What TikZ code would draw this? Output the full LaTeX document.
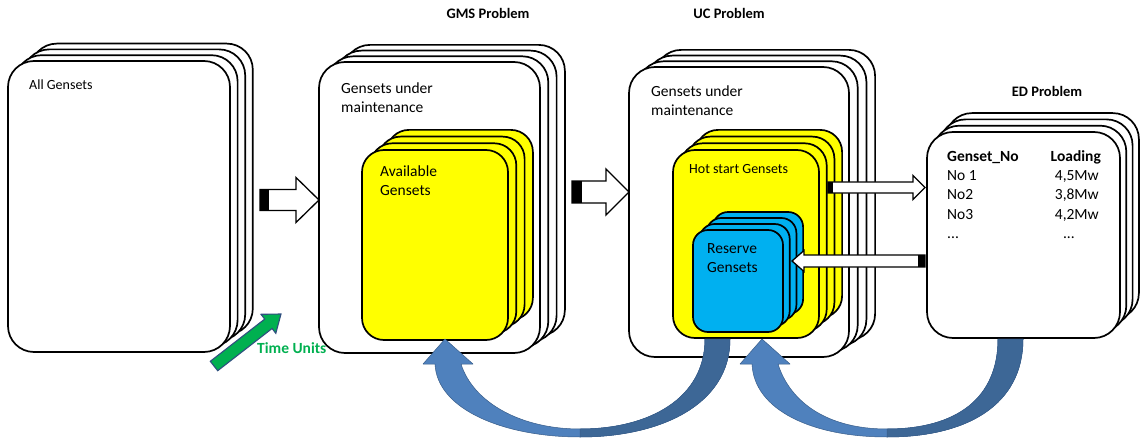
\documentclass[tikz,border=0pt]{standalone}
\usepackage{fontspec}
\setmainfont{Carlito}
\usetikzlibrary{calc}

\definecolor{cardyellow}{HTML}{FFFF00}
\definecolor{cardblue}{HTML}{00B0F0}
\definecolor{arrowlight}{HTML}{4F81BD}
\definecolor{arrowdark}{HTML}{3D6796}
\definecolor{arrowedge}{HTML}{385D8A}
\definecolor{timegreen}{HTML}{00B050}
\definecolor{timeedge}{HTML}{2F4F7F}

\tikzset{
  card/.style={draw=black, line width=1.7pt, fill=white, rectangle,
    rounded corners=26pt, anchor=north west, inner sep=0pt, outer sep=0pt},
  ycard/.style={card, fill=cardyellow, rounded corners=22pt},
  bcard/.style={card, fill=cardblue, rounded corners=15pt},
  body/.style={inner sep=0pt, anchor=base west, font=\fontsize{15.5}{19}\selectfont},
  bodyr/.style={body, anchor=base east},
  smallbody/.style={body, font=\fontsize{14}{17}\selectfont},
  title/.style={inner sep=0pt, anchor=base, font=\bfseries\fontsize{14.5}{17}\selectfont},
  barrow/.style={draw=black, fill=white, line width=1.3pt, line join=miter},
  bend arrow/.style={draw=arrowedge, line width=0.5pt, line join=round},
}

% a stack of four cards: three behind, shifted up and right, and the front one
\newcommand\cardstack[8]{% #1 name, #2 style, #3 x, #4 y, #5 width, #6 height, #7 dx, #8 dy
  \foreach \k in {3,2,1}
    \node[#2, minimum width=#5pt, minimum height=#6pt] (#1-\k) at ({#3+\k*#7},{#4-\k*#8}) {};
  \node[#2, minimum width=#5pt, minimum height=#6pt] (#1) at (#3,#4) {};
}

% hollow block arrows with a black band at the tail
\newcommand\arrowright[6]{% #1 tail, #2 tip, #3 shaft half, #4 head half, #5 head length, #6 band
  \draw[barrow] let \p1=(#1), \p2=(#2) in
    (\x1,\y1+#3pt) -- (\x2-#5pt,\y1+#3pt) -- (\x2-#5pt,\y1+#4pt) -- (\x2,\y1)
    -- (\x2-#5pt,\y1-#4pt) -- (\x2-#5pt,\y1-#3pt) -- (\x1,\y1-#3pt) -- cycle;
  \fill let \p1=(#1) in (\x1,\y1-#3pt) rectangle (\x1+#6pt,\y1+#3pt);
}
\newcommand\arrowleft[6]{%
  \draw[barrow] let \p1=(#1), \p2=(#2) in
    (\x1,\y1+#3pt) -- (\x2+#5pt,\y1+#3pt) -- (\x2+#5pt,\y1+#4pt) -- (\x2,\y1)
    -- (\x2+#5pt,\y1-#4pt) -- (\x2+#5pt,\y1-#3pt) -- (\x1,\y1-#3pt) -- cycle;
  \fill let \p1=(#1) in (\x1-#6pt,\y1-#3pt) rectangle (\x1,\y1+#3pt);
}

% curved return arrow: tail at the right, head pointing up at the left
% #1 head tip x, #2 tail inner x, #3 bottom x
\newcommand\returnarrow[3]{%
  \filldraw[bend arrow, fill=arrowlight]
    ({#2+25},339) .. controls ({#2+25},405) and ({#3+80},437) .. (#3,437)
    .. controls ({#3-75},437) and ({#1-8},410) .. ({#1-10},364)
    -- ({#1-22},364) -- (#1,339) -- ({#1+28},364) -- ({#1+16},364)
    .. controls ({#1+28},402) and ({#3-60},429) .. (#3,429)
    .. controls ({#3+70},429) and (#2,398) .. (#2,339) -- cycle;
  \filldraw[bend arrow, fill=arrowdark]
    ({#2+25},339) .. controls ({#2+25},405) and ({#3+80},437) .. (#3,437)
    -- (#3,429) .. controls ({#3+70},429) and (#2,398) .. (#2,339) -- cycle;
}

\begin{document}
\begin{tikzpicture}[x=1pt, y=-1pt]
\useasboundingbox (0,0) rectangle (1141,441);
\fill[white] (0,0) rectangle (1141,441);

% titles
\node[title] (tgms) at (488,19) {GMS Problem};
\node[title] (tuc)  at (729,19) {UC Problem};
\node[title] (ted)  at (1047,97) {ED Problem};

% all gensets
\cardstack{all}{card}{8}{61}{222}{291}{7.6}{5.8}
\node[smallbody] (tall) at (29,90) {All Gensets};

% GMS problem
\cardstack{gms}{card}{319}{62}{221}{291}{8.3}{5.7}
\node[body] (tgms1) at (341,94) {Gensets under};
\node[body] (tgms2) at (341,113) {maintenance};
\cardstack{avail}{ycard}{362}{150}{146}{190}{8.3}{6.7}
\node[body] (tav1) at (380,177) {Available};
\node[body] (tav2) at (380,195) {Gensets};

% UC problem
\cardstack{uc}{card}{629}{67}{220}{290}{8.7}{5.7}
\node[body] (tuc1) at (651,97) {Gensets under};
\node[body] (tuc2) at (651,116) {maintenance};
\cardstack{hot}{ycard}{673}{150}{146}{188}{7.7}{6.7}
\node[smallbody] (thot) at (689,174) {Hot start Gensets};
\cardstack{res}{bcard}{693}{230}{90}{102}{6.7}{6}
\node[body] (tres1) at (707,253) {Reserve};
\node[body] (tres2) at (707,272) {Gensets};

% ED problem
\cardstack{ed}{card}{927}{132}{193}{206}{6.3}{6.3}
\node[body, font=\bfseries\fontsize{15.5}{19}\selectfont] (hno) at (947,162) {Genset\_No};
\node[bodyr, font=\bfseries\fontsize{15.5}{19}\selectfont] (hload) at (1101,162) {Loading};
\node[body] (r1a) at (947,181) {No 1};
\node[bodyr] (r1b) at (1099,181) {4,5Mw};
\node[body] (r2a) at (947,200) {No2};
\node[bodyr] (r2b) at (1099,200) {3,8Mw};
\node[body] (r3a) at (947,219) {No3};
\node[bodyr] (r3b) at (1099,219) {4,2Mw};
\node[body] (r4a) at (947,238) {...};
\node[bodyr] (r4b) at (1075,238) {...};

% block arrows
\coordinate (a1s) at (260,200);
\coordinate (a1e) at (gms.west |- a1s);
\arrowright{a1s}{a1e}{10.5}{22.5}{23}{9}
\coordinate (a2s) at (572,192);
\coordinate (a2e) at (uc.west |- a2s);
\arrowright{a2s}{a2e}{11}{23}{23}{10}
\coordinate (a3s) at (828,187.5);
\coordinate (a3e) at (925,187.5);
\arrowright{a3s}{a3e}{5.5}{12}{12}{5}
\coordinate (a4s) at (925,261);
\coordinate (a4e) at (792,261);
\arrowleft{a4s}{a4e}{6}{10.5}{12}{7}

% feedback arrows: UC back to GMS, ED back to UC
\returnarrow{445}{705}{580}
\returnarrow{762}{998}{887}

% time axis
\filldraw[draw=timeedge, fill=timegreen, line width=1.1pt, line join=miter]
  (217.7,370.7) -- (272.1,328.5) -- (275.8,333.3) -- (281,314)
  -- (261.0,314.3) -- (264.7,319.1) -- (210.3,361.3) -- cycle;
\node[body, font=\bfseries\fontsize{15.5}{19}\selectfont, text=timegreen] (ttime) at (257,353) {Time Units};
\end{tikzpicture}
\end{document}
